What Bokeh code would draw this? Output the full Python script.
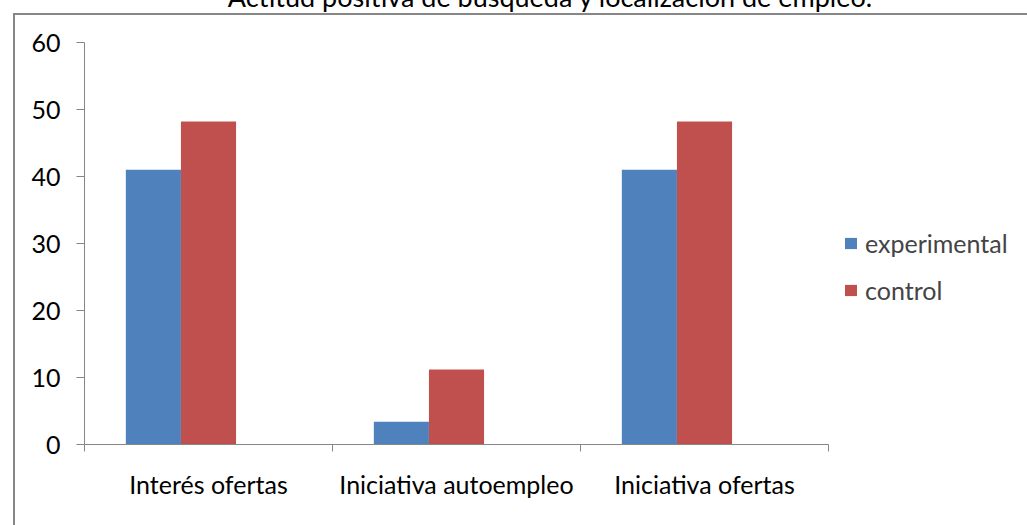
from bokeh.plotting import figure
from bokeh.models import Range1d, FixedTicker, Legend, LegendItem, ColumnDataSource, Div
from bokeh.layouts import column
from bokeh.transform import dodge
from bokeh.embed import file_html
from bokeh.resources import INLINE

categories = ["Interés ofertas", "Iniciativa autoempleo", "Iniciativa ofertas"]
series = ["experimental", "control"]
experimental = [41.0, 3.4, 41.0]
control = [48.2, 11.2, 48.2]
y_ticks = [0, 10, 20, 30, 40, 50, 60]
title_text = "Actitud positiva de búsqueda y localización de empleo."

colors = ["#4F81BD", "#C0504D"]
FONT = "Lato"
FS = "25px"
AXIS_COLOR = "#868686"

n = len(categories)
centers = [i + 0.5 for i in range(n)]
bounds = list(range(n + 1))
bar_w = 1 / 4.5  # three slots, 150% gap (Excel style)

src = ColumnDataSource(dict(x=centers, experimental=experimental, control=control))

p = figure(frame_width=744, frame_height=402,
           x_range=Range1d(0, n), y_range=Range1d(0, y_ticks[-1]),
           output_backend="svg", toolbar_location=None,
           min_border_left=74, min_border_right=199,
           min_border_top=32, min_border_bottom=76)
p.margin = (10, 0, 0, 10)
p.xgrid.visible = False
p.ygrid.visible = False
p.outline_line_color = None
p.background_fill_color = "white"
p.border_fill_color = "white"

r1 = p.vbar(x=dodge("x", -bar_w, range=p.x_range), top="experimental", width=bar_w,
            source=src, fill_color=colors[0], line_color=None)
r2 = p.vbar(x=dodge("x", 0, range=p.x_range), top="control", width=bar_w,
            source=src, fill_color=colors[1], line_color=None)

xa = p.xaxis[0]
xa.ticker = FixedTicker(ticks=centers, minor_ticks=bounds)
xa.major_label_overrides = {c: cat for c, cat in zip(centers, categories)}
xa.major_tick_line_color = None
xa.major_tick_in = 0
xa.major_tick_out = 0
xa.minor_tick_in = 0
xa.minor_tick_out = 7
xa.minor_tick_line_color = AXIS_COLOR
xa.axis_line_color = AXIS_COLOR
xa.major_label_standoff = 17
xa.major_label_text_font = FONT
xa.major_label_text_font_size = FS
xa.major_label_text_color = "black"

ya = p.yaxis[0]
ya.ticker = FixedTicker(ticks=y_ticks)
ya.major_tick_in = 0
ya.major_tick_out = 8
ya.minor_tick_line_color = None
ya.major_tick_line_color = AXIS_COLOR
ya.axis_line_color = AXIS_COLOR
ya.major_label_standoff = 16
ya.major_label_text_font = FONT
ya.major_label_text_font_size = FS
ya.major_label_text_color = "black"

legend = Legend(items=[LegendItem(label=series[0], renderers=[r1]),
                       LegendItem(label=series[1], renderers=[r2])],
                location=(15, 139), orientation="vertical",
                label_text_font=FONT, label_text_font_size=FS,
                glyph_width=15, glyph_height=14, label_standoff=7,
                spacing=17, label_height=20, padding=0, margin=0,
                border_line_color=None, background_fill_alpha=0)
p.add_layout(legend, "right")

overlay_html = (
    '<div style="position:absolute; left:8px; top:-512px; width:1019px; height:517px; '
    'box-sizing:border-box; border-left:2px solid #878787; border-top:2px solid #878787; '
    'pointer-events:none;"></div>'
    '<div style="position:absolute; left:95px; top:-541px; width:900px; '
    'text-align:center; white-space:nowrap; font-family:Lato; font-size:27px; '
    'line-height:26px; color:black;">' + title_text + '</div>'
)
div = Div(text=overlay_html, width=1000, height=1, styles={"overflow": "visible"})

layout = column(p, div, spacing=0)

html = file_html(layout, INLINE)
html = html.replace("<head>", "<head><style>html, body { overflow: hidden; }</style>", 1)
open("out.html", "w").write(html)
